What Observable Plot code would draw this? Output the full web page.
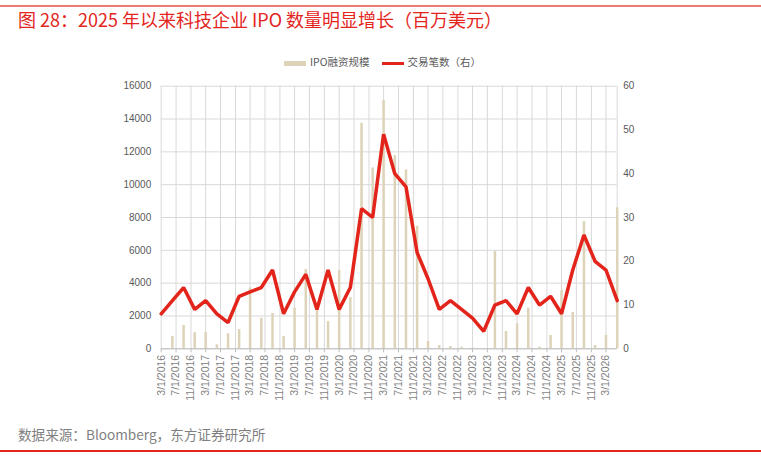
<!DOCTYPE html>
<html><head><meta charset="utf-8">
<script src="https://cdn.jsdelivr.net/npm/d3@7"></script>
<script src="https://cdn.jsdelivr.net/npm/@observablehq/plot@0.6"></script>
<style>
body{margin:0;width:761px;height:456px;position:relative;background:#fff;font-family:"Noto Sans CJK SC","Noto Sans",sans-serif;overflow:hidden}
#topline{position:absolute;left:0;top:5px;width:761px;height:2px;background:#ef7a75}
#title{position:absolute;left:18px;top:6px;font-size:18px;line-height:26px;color:#e3251d;white-space:nowrap}
#legend{position:absolute;left:284px;top:54px;font-size:10.5px;color:#595959;white-space:nowrap;line-height:16px}
.sw{display:inline-block;vertical-align:middle;width:22px;margin-right:4px}
#chart{position:absolute;left:0;top:70px}
#source{position:absolute;left:18px;top:424px;font-size:13.6px;line-height:20px;color:#7f7f7f;white-space:nowrap}
#botline{position:absolute;left:0;top:450px;width:761px;height:2px;background:#e3251d}
</style></head><body>
<div id="topline"></div>
<div id="title">图 28：2025 年以来科技企业 IPO 数量明显增长（百万美元）</div>
<div id="legend"><span class="sw" style="height:5px;background:#ddd3b8"></span>IPO融资规模<span style="display:inline-block;width:12px"></span><span class="sw" style="height:3px;background:#e3241b"></span>交易笔数（右）</div>
<div id="chart"></div>
<div id="source">数据来源：Bloomberg，东方证券研究所</div>
<div id="botline"></div>
<script>
const quarters = ["2016-03-01","2016-06-01","2016-09-01","2016-12-01","2017-03-01","2017-06-01","2017-09-01","2017-12-01",
"2018-03-01","2018-06-01","2018-09-01","2018-12-01","2019-03-01","2019-06-01","2019-09-01","2019-12-01",
"2020-03-01","2020-06-01","2020-09-01","2020-12-01","2021-03-01","2021-06-01","2021-09-01","2021-12-01",
"2022-03-01","2022-06-01","2022-09-01","2022-12-01","2023-03-01","2023-06-01","2023-09-01","2023-12-01",
"2024-03-01","2024-06-01","2024-09-01","2024-12-01","2025-03-01","2025-06-01","2025-09-01","2025-12-01",
"2026-03-01","2026-06-01"];
const ipoProceeds = [0,750,1420,980,990,240,920,1170,
3700,1860,2150,750,2480,4830,2330,1660,
4770,3120,13740,11020,15120,11770,10900,7470,
445,200,140,100,50,20,5925,1055,
1520,2475,100,810,3550,2210,7750,200,
810,8590];
const dealCount = [8,11,14,9,11,8,6,12,13,14,18,8,13,17,9,18,9,14,32,30,49,40,37,22,16,9,11,9,7,4,10,11,8,14,10,12,8,18,26,20,18,11];
const tickLabels = ["3/1/2016","7/1/2016","11/1/2016","3/1/2017","7/1/2017","11/1/2017","3/1/2018","7/1/2018","11/1/2018",
"3/1/2019","7/1/2019","11/1/2019","3/1/2020","7/1/2020","11/1/2020","3/1/2021","7/1/2021","11/1/2021",
"3/1/2022","7/1/2022","11/1/2022","3/1/2023","7/1/2023","11/1/2023","3/1/2024","7/1/2024","11/1/2024",
"3/1/2025","7/1/2025","11/1/2025","3/1/2026"];
const leftTicks = [0,2000,4000,6000,8000,10000,12000,14000,16000];
const rightTicks = [0,10,20,30,40,50,60];

const yMax = 16000, rMax = 60, k = yMax / rMax;
const parseMDY = s => { const [m,d,y] = s.split("/").map(Number); return new Date(Date.UTC(y, m-1, d)); };
const tickDates = tickLabels.map(parseMDY);
const data = quarters.map((q,i) => ({date: new Date(q + "T00:00:00Z"), ipo: ipoProceeds[i], deals: dealCount[i]}));
const x0 = data[0].date, x1 = data[data.length-1].date;

const chart = Plot.plot({
  width: 761, height: 345,
  marginLeft: 160.7, marginRight: 144.3, marginTop: 15.7, marginBottom: 66.7,
  x: {type: "utc", domain: [x0, x1]},
  y: {domain: [0, yMax]},
  style: {fontFamily: "'Liberation Sans', Arial, sans-serif", fontSize: "10px", color: "#595959", background: "transparent"},
  marks: [
    Plot.gridY(leftTicks, {stroke: "#d9d9d9", strokeOpacity: 1}),
    Plot.gridX(tickDates, {stroke: "#d9d9d9", strokeOpacity: 1}),
    Plot.ruleX([x1], {stroke: "#d9d9d9"}),
    Plot.ruleX(data, {x: "date", y1: 0, y2: "ipo", stroke: "#ddd3b8", strokeWidth: 2.5}),
    Plot.ruleY([0], {stroke: "#bfbfbf"}),
    Plot.lineY(data, {x: "date", y: d => d.deals * k, stroke: "#e3241b", strokeWidth: 3.5, strokeLinejoin: "miter"}),
    Plot.axisY(leftTicks, {anchor: "left", tickSize: 0, tickPadding: 10, tickFormat: d => String(d), label: null}),
    Plot.axisY(rightTicks.map(v => v * k), {anchor: "right", tickSize: 0, tickPadding: 6, tickFormat: d => String(Math.round(d / k)), label: null}),
    Plot.axisX(tickDates, {anchor: "bottom", tickSize: 4, tickPadding: 2, stroke: "#bfbfbf", tickRotate: -90, fontSize: 10.5, fill: "#7f7f7f",
      tickFormat: d => tickLabels[tickDates.findIndex(t => +t === +d)], label: null})
  ]
});
document.getElementById("chart").appendChild(chart);
</script>
</body></html>
